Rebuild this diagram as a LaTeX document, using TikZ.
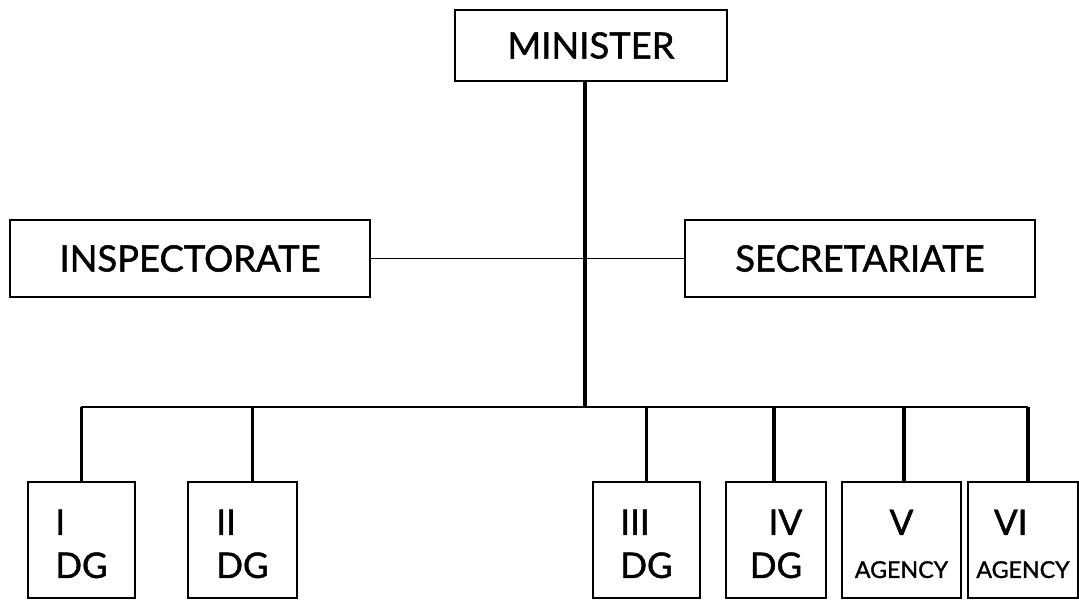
\documentclass[tikz,border=0pt]{standalone}
\usepackage{fontspec}
\setmainfont{Lato}[FakeBold=1.3]
\newcommand\agfont{\fontsize{13.2}{15}\selectfont}
\newcommand\topstrut{\rule{0pt}{18.8pt}}
\begin{document}
\begin{tikzpicture}[x=0.02cm,y=-0.02cm,
  box/.style={draw, line width=1.6pt, inner sep=0pt, font=\fontsize{20.7}{24}\selectfont},
  low/.style={box, minimum height=116*0.02cm, font=\fontsize{20}{24.5}\selectfont},
  bar/.style={line width=2pt},
  thin/.style={line width=0.8pt},
  busline/.style={line width=1.3pt}]
\useasboundingbox (0,0) rectangle (1079,602);
\node[box, minimum width=272*0.02cm, minimum height=71*0.02cm] (min) at (591,45.5) {MINISTER};
\node[box, minimum width=360*0.02cm, minimum height=77*0.02cm] (insp) at (190,258.5) {INSPECTORATE};
\node[box, minimum width=350*0.02cm, minimum height=77*0.02cm] (sec) at (860,258.5) {SECRETARIATE};
\coordinate (hub) at (585,407);
\coordinate (busL) at (81,407);
\coordinate (busR) at (1028,407);
\node[low, minimum width=107*0.02cm, align=left] (b1) at (81.5,540) {\topstrut I\\DG};
\node[low, minimum width=109*0.02cm, align=left] (b2) at (242.5,540) {\topstrut II\\DG};
\node[low, minimum width=107*0.02cm, align=left] (b3) at (646.5,540) {\topstrut III\\DG};
\node[low, minimum width=100*0.02cm, align=right] (b4) at (776,540) {\topstrut IV\\DG};
\node[low, minimum width=119*0.02cm, align=center] (b5) at (901.5,540) {\topstrut V\\{\agfont AGENCY}};
\node[low, minimum width=110*0.02cm, align=left] (b6) at (1023,540) {\topstrut\hspace{0.5em}VI\\{\agfont AGENCY}};
\draw[bar] (min.south -| hub) -- (hub);
\draw[thin] (insp.east) -- (sec.west);
\draw[busline] (busL) -- (busR);
\draw[bar] (b1.north) -- (b1.north |- busL);
\draw[bar] ([xshift=10*0.02cm]b2.north) -- ([xshift=10*0.02cm]b2.north |- busL);
\draw[bar] (b3.north) -- (b3.north |- busL);
\draw[bar] ([xshift=-2*0.02cm]b4.north) -- ([xshift=-2*0.02cm]b4.north |- busL);
\draw[bar] ([xshift=2.5*0.02cm]b5.north) -- ([xshift=2.5*0.02cm]b5.north |- busL);
\draw[bar] ([xshift=5*0.02cm]b6.north) -- (busR);
\end{tikzpicture}
\end{document}
